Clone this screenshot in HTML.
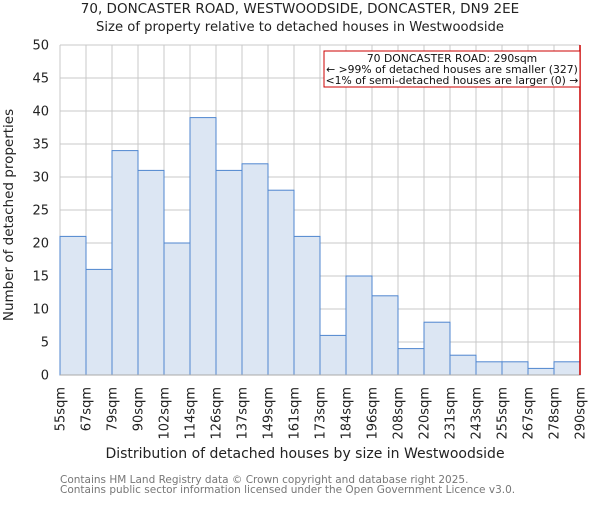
<!DOCTYPE html>
<html><head><meta charset="utf-8"><style>
body{margin:0;background:#fff;}
svg text{font-family:"DejaVu Sans","Liberation Sans",sans-serif;}
</style></head><body>
<svg id="c" width="600" height="500" xmlns="http://www.w3.org/2000/svg">
<text x="300" y="13" text-anchor="middle" font-size="13.5" fill="#222">70, DONCASTER ROAD, WESTWOODSIDE, DONCASTER, DN9 2EE</text>
<text x="300" y="31" text-anchor="middle" font-size="13.2" fill="#222">Size of property relative to detached houses in Westwoodside</text>
<g id="grid"></g>
<g id="bars"></g>
<g id="axes"></g>
<text transform="translate(13,215) rotate(-90)" text-anchor="middle" font-size="13.5" fill="#222">Number of detached properties</text>
<text x="305" y="458" text-anchor="middle" font-size="14" fill="#222">Distribution of detached houses by size in Westwoodside</text>
<text x="60" y="483" font-size="10.5" fill="#777">Contains HM Land Registry data © Crown copyright and database right 2025.</text>
<text x="60" y="493" font-size="10.5" fill="#777">Contains public sector information licensed under the Open Government Licence v3.0.</text>
<rect x="324" y="51" width="256" height="36" fill="#fff" stroke="#c00" stroke-width="1"/>
<text x="452" y="62" text-anchor="middle" font-size="10.8" fill="#111">70 DONCASTER ROAD: 290sqm</text>
<text x="452" y="73" text-anchor="middle" font-size="10.8" fill="#111">← &gt;99% of detached houses are smaller (327)</text>
<text x="452" y="84" text-anchor="middle" font-size="10.8" fill="#111">&lt;1% of semi-detached houses are larger (0) →</text>
</svg>
<script>
const categories=["55sqm","67sqm","79sqm","90sqm","102sqm","114sqm","126sqm","137sqm","149sqm","161sqm","173sqm","184sqm","196sqm","208sqm","220sqm","231sqm","243sqm","255sqm","267sqm","278sqm","290sqm"];
const counts=[21,16,34,31,20,39,31,32,28,21,6,15,12,4,8,3,2,2,1,2];
const yTicks=[0,5,10,15,20,25,30,35,40,45,50];
const markerIndex=20;
const NS="http://www.w3.org/2000/svg";
const X0=60,X1=580,Y0=375,Y1=45,YMAX=50;
const bw=(X1-X0)/counts.length;
function xs(i){return X0+i*bw;}
function ys(v){return Y0-(v/YMAX)*(Y0-Y1);}
function mk(t,a,p){const e=document.createElementNS(NS,t);for(const k in a)e.setAttribute(k,a[k]);p.appendChild(e);return e;}
const grid=document.getElementById('grid'),bars=document.getElementById('bars'),axes=document.getElementById('axes');
yTicks.forEach(v=>{
 const l=mk('line',{x1:X0,x2:X1,y1:ys(v),y2:ys(v),stroke:'#c8c8c8','stroke-width':1},grid);
 
 
 const t=mk('text',{x:X0-11,y:ys(v)+4.5,'text-anchor':'end','font-size':13,fill:'#222'},axes);
 t.textContent=v;
 
 
});
categories.forEach((c,i)=>{
 const x=xs(i);
 const l=mk('line',{x1:x,x2:x,y1:Y1,y2:Y0,stroke:'#c8c8c8','stroke-width':1},grid);
 
 
 const t=mk('text',{transform:`translate(${x+4.5},387) rotate(-90)`,'text-anchor':'end','font-size':13,fill:'#222'},axes);
 t.textContent=c;
 
 
});
counts.forEach((v,i)=>{
 const r=mk('rect',{x:xs(i),y:ys(v),width:bw,height:Y0-ys(v),fill:'#dce6f3',stroke:'#4f86cf','stroke-width':1},bars);
 
 
});
const ax=mk('line',{x1:X0,x2:X1,y1:Y0,y2:Y0,stroke:'#aaa','stroke-width':1},axes);


const m=mk('line',{x1:xs(markerIndex),x2:xs(markerIndex),y1:Y1,y2:Y0,stroke:'#c00','stroke-width':1.5},axes);


</script>
</body></html>
